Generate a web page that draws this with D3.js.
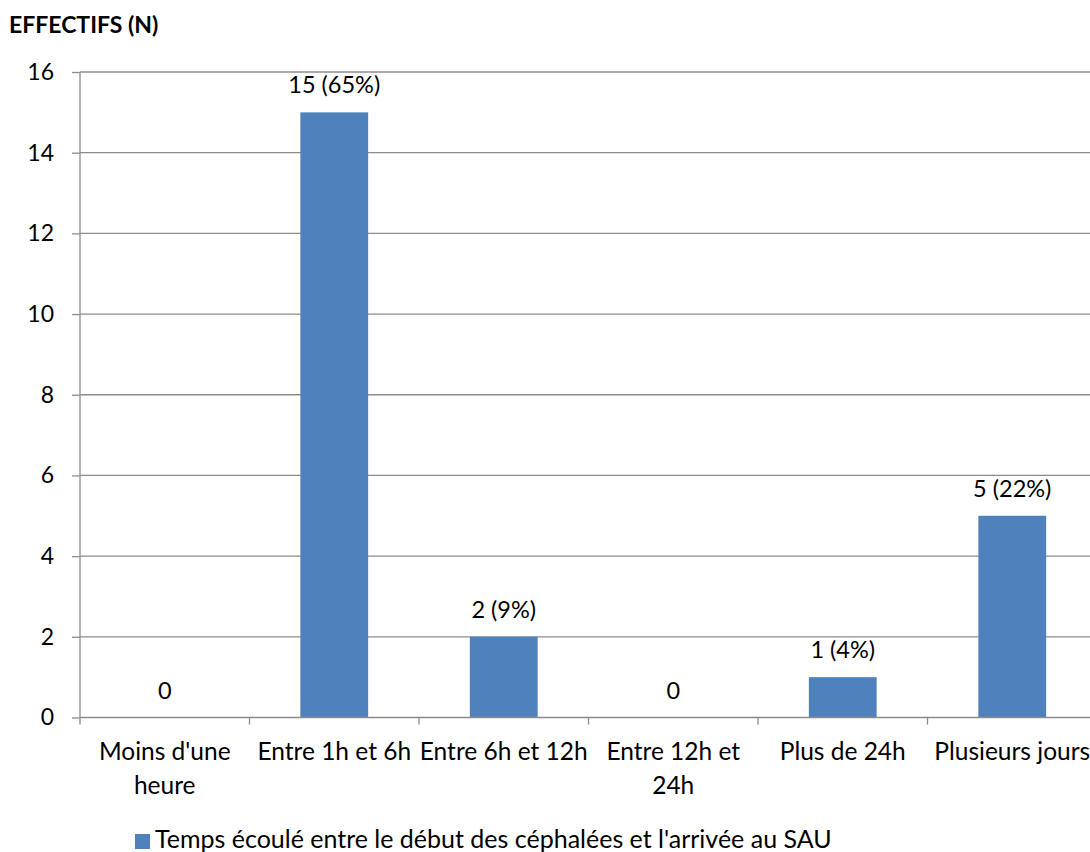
<!DOCTYPE html>
<html><head><meta charset="utf-8">
<script src="https://cdn.jsdelivr.net/npm/d3@7"></script>
<style>body{margin:0;background:#fff}svg text{font-family:Lato,"Open Sans",sans-serif;fill:#000}</style>
</head><body><svg id="c" width="1090" height="852"></svg>
<script>
const categories = [["Moins d'une","heure"],["Entre 1h et 6h"],["Entre 6h et 12h"],["Entre 12h et","24h"],["Plus de 24h"],["Plusieurs jours"]];
const values = [0, 15, 2, 0, 1, 5];
const labels = ["0", "15 (65%)", "2 (9%)", "0", "1 (4%)", "5 (22%)"];
const yTicks = [0, 2, 4, 6, 8, 10, 12, 14, 16];
const seriesName = "Temps écoulé entre le début des céphalées et l'arrivée au SAU";
const yTitle = "EFFECTIFS (N)";

const svg = d3.select("#c");
const L = 80, R = 1097, T = 72, B = 717.5;
const x = d3.scaleBand().domain(d3.range(categories.length)).range([L, R]).paddingInner(0.6).paddingOuter(0.3);
const xb = d3.scaleLinear().domain([0, categories.length]).range([L, R]);
const y = d3.scaleLinear().domain([0, 16]).range([B, T]);
const grid = "#8c8c8c";

// gridlines
svg.append("g").selectAll("line").data(yTicks.filter(d => d > 0)).join("line")
  .attr("x1", L).attr("x2", 1090).attr("y1", d => y(d)).attr("y2", d => y(d))
  .attr("stroke", grid).attr("stroke-width", 1.3);

// y axis
const ya = svg.append("g").attr("transform", `translate(${L},0)`)
  .call(d3.axisLeft(y).tickValues(yTicks).tickSize(8).tickPadding(18));
ya.select(".domain").attr("stroke", grid).attr("stroke-width", 1.3).attr("d", `M0,${T}V${B}`);
ya.selectAll(".tick line").attr("stroke", grid).attr("stroke-width", 1.3);
ya.selectAll(".tick text").style("font-size", "23px").attr("fill", "#000");

// bars
svg.append("g").selectAll("rect").data(values).join("rect")
  .attr("x", (d, i) => x(i)).attr("width", x.bandwidth())
  .attr("y", d => y(d)).attr("height", d => y(0) - y(d))
  .attr("fill", "#4f81bd");

// x axis
svg.append("line").attr("x1", L).attr("x2", 1090).attr("y1", B).attr("y2", B).attr("stroke", grid).attr("stroke-width", 1.3);
svg.append("g").selectAll("line").data(d3.range(categories.length + 1)).join("line")
  .attr("x1", d => xb(d)).attr("x2", d => xb(d)).attr("y1", B).attr("y2", B + 7)
  .attr("stroke", grid).attr("stroke-width", 1.3);

// data labels
svg.append("g").selectAll("text").data(labels).join("text")
  .attr("x", (d, i) => x(i) + x.bandwidth() / 2).attr("y", (d, i) => y(values[i]) - 19)
  .attr("text-anchor", "middle").style("font-size", "23.5px").text(d => d);

// category labels
const cl = svg.append("g").selectAll("text").data(categories).join("text")
  .attr("x", (d, i) => x(i) + x.bandwidth() / 2).attr("y", 760)
  .attr("text-anchor", "middle").style("font-size", "24.5px");
cl.selectAll("tspan").data(d => d).join("tspan")
  .attr("x", function () { return this.parentNode.getAttribute("x"); })
  .attr("dy", (d, i) => i === 0 ? 0 : 34).text(d => d);

// title
svg.append("text").attr("x", 9).attr("y", 33).style("font-size", "23px").style("font-weight", "bold").text(yTitle);

// legend
svg.append("rect").attr("x", 135).attr("y", 834).attr("width", 15).attr("height", 15).attr("fill", "#4f81bd");
svg.append("text").attr("x", 155).attr("y", 848).style("font-size", "25px").text(seriesName);
</script></body></html>
